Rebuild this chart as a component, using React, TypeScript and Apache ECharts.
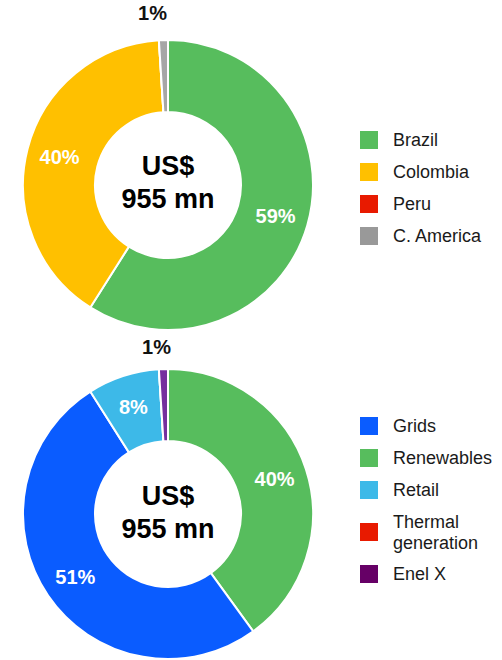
import React, { useEffect, useRef } from "react";
import * as echarts from "echarts";

const regionNames = ["Brazil", "Colombia", "Peru", "C. America"];
const regionValues = [59, 40, 0, 1];
const regionColors = ["#57BD5D", "#FFC000", "#E81A00", "#A6A6A6"];

const businessNames = ["Renewables", "Grids", "Retail", "Thermal generation", "Enel X"];
const businessValues = [40, 51, 8, 0, 1];
const businessColors = ["#57BD5D", "#0A5CFF", "#3DB9E8", "#E81A00", "#75309E"];
const businessLegendOrder = ["Grids", "Renewables", "Retail", "Thermal generation", "Enel X"];

const centerLines = ["US$", "955 mn"];

const FONT = "Arial, 'Liberation Sans', sans-serif";

function makeData(names: string[], values: number[], colors: string[], smallOffset: number[]) {
  return names.map((n, i) => {
    const item: any = { name: n, value: values[i], itemStyle: { color: colors[i] } };
    if (values[i] > 0 && values[i] < 3) {
      item.label = { color: "#111", offset: smallOffset };
    }
    return item;
  });
}

export default function App() {
  const ref = useRef<HTMLDivElement>(null);
  useEffect(() => {
    document.body.style.margin = "0";
    const chart = echarts.init(ref.current!, null, { renderer: "svg" });
    const label = {
      show: true,
      position: "inside",
      color: "#fff",
      fontFamily: FONT,
      fontWeight: "bold",
      fontSize: 20,
      formatter: (p: any) => (p.value > 0 ? Math.round(p.percent) + "%" : ""),
    };
    const common = {
      type: "pie",
      radius: [73, 145],
      startAngle: 90,
      clockwise: true,
      avoidLabelOverlap: false,
      labelLine: { show: false },
      itemStyle: { borderColor: "#fff", borderWidth: 2 },
      emphasis: { disabled: true },
      label,
    };
    const legendCommon = {
      orient: "vertical",
      left: 358,
      padding: 0,
      itemWidth: 20,
      itemHeight: 20,
      itemGap: 10,
      icon: "rect",
      selectedMode: false,
      textStyle: {
        fontFamily: FONT,
        fontSize: 18,
        lineHeight: 21,
        color: "#1a1a1a",
        padding: [0, 0, 0, 9],
      },
      formatter: (n: string) => (n === "Thermal generation" ? "Thermal\ngeneration" : n),
    };
    chart.setOption({
      animation: false,
      legend: [
        {
          ...legendCommon,
          top: 129,
          data: regionNames.map((n, i) => ({ name: n, itemStyle: { color: i === 3 ? "#999999" : regionColors[i] } })),
        },
        {
          ...legendCommon,
          top: 415,
          data: businessLegendOrder.map((n) => ({
            name: n,
            itemStyle: { color: n === "Enel X" ? "#660066" : businessColors[businessNames.indexOf(n)] },
          })),
        },
      ],
      graphic: [
        {
          type: "text",
          x: 168,
          y: 182,
          style: {
            text: centerLines.join("\n"),
            textAlign: "center",
            textVerticalAlign: "middle",
            fontFamily: FONT,
            fontWeight: "bold",
            fontSize: 27,
            lineHeight: 33,
            fill: "#000",
          },
        },
        {
          type: "text",
          x: 168,
          y: 512,
          style: {
            text: centerLines.join("\n"),
            textAlign: "center",
            textVerticalAlign: "middle",
            fontFamily: FONT,
            fontWeight: "bold",
            fontSize: 27,
            lineHeight: 33,
            fill: "#000",
          },
        },
      ],
      series: [
        {
          ...common,
          center: [168, 185],
          data: makeData(regionNames, regionValues, regionColors, [-12, -60]),
        },
        {
          ...common,
          center: [168, 514],
          data: makeData(businessNames, businessValues, businessColors, [-8, -55]),
        },
      ],
    });
    return () => chart.dispose();
  }, []);
  return <div ref={ref} style={{ width: 502, height: 660 }} />;
}
